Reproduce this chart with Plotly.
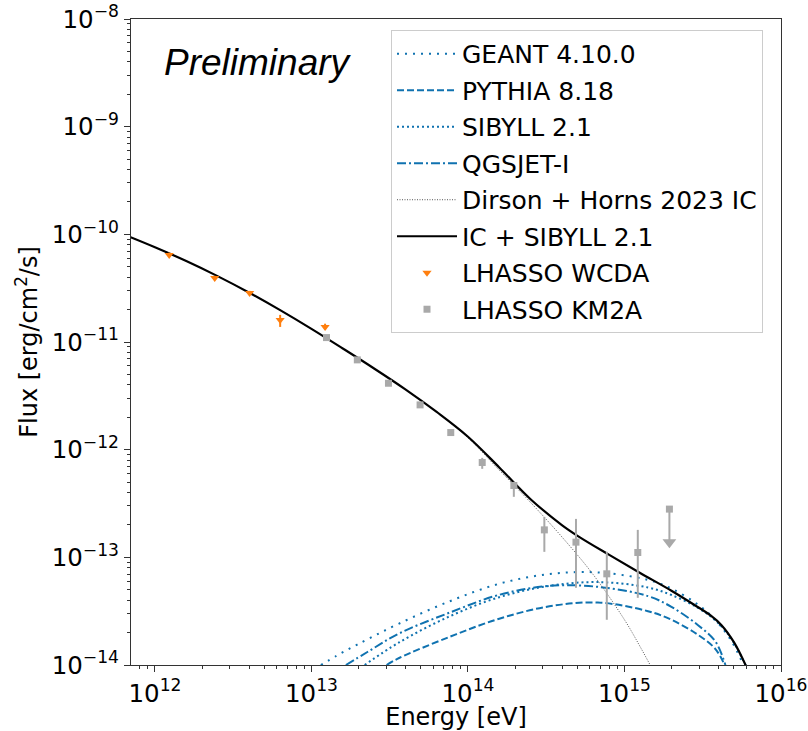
import plotly.graph_objects as go

# ---------------- data (log10 E [eV], log10 flux [erg/cm2/s]) ----------------
geant_logE = [13.06, 13.16, 13.26, 13.36, 13.56, 13.88, 14.20, 14.52, 14.83, 15.15, 15.30, 15.47, 15.58, 15.68, 15.76]
geant_logF = [-14.0, -13.915, -13.835, -13.76, -13.615, -13.41, -13.245, -13.155, -13.14, -13.21, -13.29, -13.44, -13.58, -13.77, -14.0]

pythia_logE = [13.48, 13.56, 13.88, 14.20, 14.52, 14.83, 15.15, 15.30, 15.47, 15.58, 15.64]
pythia_logF = [-14.0, -13.935, -13.74, -13.57, -13.455, -13.42, -13.50, -13.58, -13.72, -13.85, -14.0]

sibyll_logE = [13.34, 13.56, 13.88, 14.20, 14.52, 14.83, 15.15, 15.30, 15.47, 15.58, 15.68, 15.78]
sibyll_logF = [-14.0, -13.79, -13.55, -13.37, -13.265, -13.23, -13.28, -13.35, -13.47, -13.585, -13.75, -14.02]

qgsjet_logE = [13.22, 13.36, 13.56, 13.88, 14.20, 14.52, 14.83, 15.15, 15.30, 15.47, 15.58, 15.645]
qgsjet_logF = [-14.0, -13.877, -13.707, -13.515, -13.348, -13.265, -13.274, -13.36, -13.46, -13.63, -13.78, -14.0]

ic_logE = [11.84, 12.0, 12.2, 12.4, 12.6, 12.8, 13.0, 13.2, 13.4, 13.6, 13.8, 14.0, 14.2, 14.4, 14.6, 14.8, 15.0, 15.1, 15.2, 15.25]
ic_logF = [-10.024, -10.12, -10.248, -10.388, -10.54, -10.704, -10.878, -11.06, -11.246, -11.44, -11.65, -11.89, -12.19, -12.49, -12.81, -13.16, -13.58, -13.83, -14.1, -14.25]

tot_logE = [11.84, 12.0, 12.2, 12.4, 12.6, 12.8, 13.0, 13.2, 13.4, 13.6, 13.8, 14.0, 14.2, 14.4, 14.6, 14.7, 14.9, 15.1, 15.3, 15.45, 15.55, 15.62, 15.70, 15.78]
tot_logF = [-10.024, -10.12, -10.248, -10.388, -10.54, -10.704, -10.878, -11.06, -11.246, -11.44, -11.65, -11.88, -12.165, -12.46, -12.70, -12.80, -12.975, -13.145, -13.31, -13.445, -13.54, -13.63, -13.79, -14.02]

# LHAASO WCDA
wcda_logE = [12.091, 12.382, 12.605, 12.800, 13.087]
wcda_logF = [-10.191, -10.405, -10.544, -10.795, -10.860]
wcda_lo = [-10.21, -10.425, -10.565, -10.860, -10.885]
wcda_hi = [-10.17, -10.385, -10.525, -10.748, -10.830]

# LHAASO KM2A
km2a_logE = [13.096, 13.293, 13.492, 13.694, 13.890, 14.091, 14.293, 14.488, 14.690, 14.887, 15.085]
km2a_logF = [-10.959, -11.166, -11.383, -11.584, -11.841, -12.119, -12.333, -12.745, -12.859, -13.153, -12.955]
km2a_lo = [-10.975, -11.180, -11.395, -11.598, -11.865, -12.178, -12.438, -12.949, -13.283, -13.580, -13.376]
km2a_hi = [-10.945, -11.152, -11.371, -11.570, -11.820, -12.076, -12.299, -12.624, -12.643, -12.949, -12.745]

# KM2A upper limit
ul_logE = [15.287]
ul_logF = [-12.552]
ul_tip_logF = [-12.86]

xtick_pow = [12, 13, 14, 15, 16]
ytick_pow = [-14, -13, -12, -11, -10, -9, -8]

# ---------------- figure ----------------
def p(v):
    return [10 ** a for a in v]

BLUE = "#0f72b0"
ORANGE = "#ff7f0e"
GRAY = "#a9a9a9"
FONT = "DejaVu Sans"

fig = go.Figure()

fig.add_trace(go.Scatter(x=p(geant_logE), y=p(geant_logF), mode="lines", name="GEANT 4.10.0",
                         line=dict(color=BLUE, width=2, dash="2px,6px", shape="spline"), legendgroup="a"))
fig.add_trace(go.Scatter(x=p(pythia_logE), y=p(pythia_logF), mode="lines", name="PYTHIA 8.18",
                         line=dict(color=BLUE, width=2, dash="7px,3px", shape="spline"), legendgroup="b"))
fig.add_trace(go.Scatter(x=p(sibyll_logE), y=p(sibyll_logF), mode="lines", name="SIBYLL 2.1",
                         line=dict(color=BLUE, width=2, dash="2px,3px", shape="spline"), legendgroup="c"))
fig.add_trace(go.Scatter(x=p(qgsjet_logE), y=p(qgsjet_logF), mode="lines", name="QGSJET-I",
                         line=dict(color=BLUE, width=2, dash="9px,3px,2px,3px", shape="spline"), legendgroup="d"))
fig.add_trace(go.Scatter(x=p(ic_logE), y=p(ic_logF), mode="lines", name="Dirson + Horns 2023 IC",
                         line=dict(color="#555555", width=1, dash="1px,1.5px", shape="spline"), legendgroup="e"))
fig.add_trace(go.Scatter(x=p(tot_logE), y=p(tot_logF), mode="lines", name="IC + SIBYLL 2.1",
                         line=dict(color="black", width=2.2, shape="spline"), legendgroup="f"))

wy = p(wcda_logF)
fig.add_trace(go.Scatter(
    x=p(wcda_logE), y=wy, mode="markers", name="LHASSO WCDA", legendgroup="g",
    marker=dict(symbol="triangle-down", size=8, color=ORANGE),
    error_y=dict(type="data", symmetric=False,
                 array=[h - c for h, c in zip(p(wcda_hi), wy)],
                 arrayminus=[c - l for l, c in zip(p(wcda_lo), wy)],
                 color=ORANGE, thickness=2, width=0)))

ky = p(km2a_logF)
fig.add_trace(go.Scatter(
    x=p(km2a_logE), y=ky, mode="markers", name="LHASSO KM2A", legendgroup="h",
    marker=dict(symbol="square", size=7, color=GRAY),
    error_y=dict(type="data", symmetric=False,
                 array=[h - c for h, c in zip(p(km2a_hi), ky)],
                 arrayminus=[c - l for l, c in zip(p(km2a_lo), ky)],
                 color=GRAY, thickness=2, width=0)))

uy = p(ul_logF)
fig.add_trace(go.Scatter(
    x=p(ul_logE), y=uy, mode="markers", showlegend=False,
    marker=dict(symbol="square", size=7, color=GRAY),
    error_y=dict(type="data", symmetric=False, array=[0],
                 arrayminus=[c - t for t, c in zip(p(ul_tip_logF), uy)],
                 color=GRAY, thickness=2, width=0)))
fig.add_trace(go.Scatter(
    x=p(ul_logE), y=p(ul_tip_logF), mode="markers", showlegend=False,
    marker=dict(symbol="triangle-down", size=12, color=GRAY)))

fig.add_annotation(xref="paper", yref="paper", x=0.195, y=0.932, text="<i>Preliminary</i>",
                   showarrow=False, font=dict(family="Liberation Sans", size=37, color="black"),
                   xanchor="center", yanchor="middle")

xminor = [m * 10 ** k for k in range(11, 16) for m in range(2, 10)]
yminor = [m * 10.0 ** k for k in range(-14, -8) for m in range(2, 10)]

axis_common = dict(type="log", showgrid=False, zeroline=False, showline=True, linecolor="#333333",
                   linewidth=1.2, mirror=True, ticks="outside", ticklen=6, tickwidth=1, tickcolor="#333333",
                   automargin=False, ticklabeloverflow="allow",
                   tickfont=dict(family=FONT, size=24.5, color="black"))

fig.update_xaxes(**axis_common, range=[11.847, 16],
                 tickmode="array", tickvals=[10 ** k for k in xtick_pow],
                 ticktext=["10<sup>%d</sup>" % k for k in xtick_pow],
                 minor=dict(ticks="outside", ticklen=3, tickwidth=0.8, tickcolor="#333333",
                            tickmode="array", tickvals=xminor, showgrid=False),
                 title=dict(text="Energy [eV]", font=dict(family=FONT, size=24, color="black"), standoff=5))
fig.update_yaxes(**axis_common, range=[-14, -8],
                 tickmode="array", tickvals=[10 ** k for k in ytick_pow],
                 ticktext=["10<sup>\u2212%d</sup>" % (-k) for k in ytick_pow],
                 minor=dict(ticks="outside", ticklen=3, tickwidth=0.8, tickcolor="#333333",
                            tickmode="array", tickvals=yminor, showgrid=False),
                 title=dict(text="Flux [erg/cm<sup>2</sup>/s]", font=dict(family=FONT, size=24, color="black"), standoff=7))

fig.update_layout(
    width=808, height=731,
    margin=dict(l=131, r=27, t=19, b=66),
    paper_bgcolor="white", plot_bgcolor="white",
    font=dict(family=FONT, color="black"),
    legend=dict(x=0.4, y=0.983, xanchor="left", yanchor="top",
                bgcolor="rgba(255,255,255,0.85)", bordercolor="#cccccc", borderwidth=1,
                font=dict(family=FONT, size=25, color="black"),
                traceorder="grouped", tracegroupgap=1, itemwidth=60),
)

fig.write_html("out.html")
